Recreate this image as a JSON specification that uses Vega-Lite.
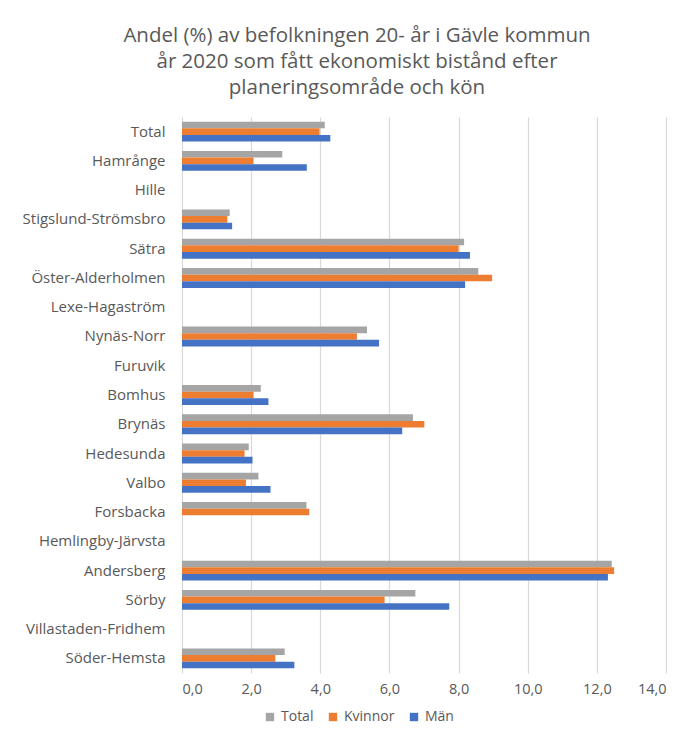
{
  "$schema": "https://vega.github.io/schema/vega-lite/v6.json",
  "autosize": {"type": "none"},
  "padding": {"left": 182, "top": 117, "right": 29, "bottom": 63},
  "width": 484,
  "height": 556,
  "background": "white",
  "title": {
    "text": ["Andel (%) av befolkningen 20- år i Gävle kommun", "år 2020 som fått ekonomiskt bistånd efter", "planeringsområde och kön"],
    "font": "Open Sans",
    "fontSize": 20.5,
    "fontWeight": "normal",
    "color": "#595959",
    "lineHeight": 26,
    "anchor": "middle",
    "frame": "group",
    "dx": -67,
    "offset": 19
  },
  "data": {
    "values": [
      {"omrade": "Total", "serie": "Total", "andel": 4.13},
      {"omrade": "Total", "serie": "Kvinnor", "andel": 3.98},
      {"omrade": "Total", "serie": "Män", "andel": 4.29},
      {"omrade": "Hamrånge", "serie": "Total", "andel": 2.9},
      {"omrade": "Hamrånge", "serie": "Kvinnor", "andel": 2.07},
      {"omrade": "Hamrånge", "serie": "Män", "andel": 3.61},
      {"omrade": "Stigslund-Strömsbro", "serie": "Total", "andel": 1.38},
      {"omrade": "Stigslund-Strömsbro", "serie": "Kvinnor", "andel": 1.31},
      {"omrade": "Stigslund-Strömsbro", "serie": "Män", "andel": 1.45},
      {"omrade": "Sätra", "serie": "Total", "andel": 8.16},
      {"omrade": "Sätra", "serie": "Kvinnor", "andel": 8.0},
      {"omrade": "Sätra", "serie": "Män", "andel": 8.33},
      {"omrade": "Öster-Alderholmen", "serie": "Total", "andel": 8.57},
      {"omrade": "Öster-Alderholmen", "serie": "Kvinnor", "andel": 8.97},
      {"omrade": "Öster-Alderholmen", "serie": "Män", "andel": 8.19},
      {"omrade": "Nynäs-Norr", "serie": "Total", "andel": 5.35},
      {"omrade": "Nynäs-Norr", "serie": "Kvinnor", "andel": 5.06},
      {"omrade": "Nynäs-Norr", "serie": "Män", "andel": 5.7},
      {"omrade": "Bomhus", "serie": "Total", "andel": 2.28},
      {"omrade": "Bomhus", "serie": "Kvinnor", "andel": 2.07},
      {"omrade": "Bomhus", "serie": "Män", "andel": 2.5},
      {"omrade": "Brynäs", "serie": "Total", "andel": 6.68},
      {"omrade": "Brynäs", "serie": "Kvinnor", "andel": 7.01},
      {"omrade": "Brynäs", "serie": "Män", "andel": 6.37},
      {"omrade": "Hedesunda", "serie": "Total", "andel": 1.93},
      {"omrade": "Hedesunda", "serie": "Kvinnor", "andel": 1.81},
      {"omrade": "Hedesunda", "serie": "Män", "andel": 2.04},
      {"omrade": "Valbo", "serie": "Total", "andel": 2.21},
      {"omrade": "Valbo", "serie": "Kvinnor", "andel": 1.85},
      {"omrade": "Valbo", "serie": "Män", "andel": 2.56},
      {"omrade": "Forsbacka", "serie": "Total", "andel": 3.6},
      {"omrade": "Forsbacka", "serie": "Kvinnor", "andel": 3.68},
      {"omrade": "Andersberg", "serie": "Total", "andel": 12.43},
      {"omrade": "Andersberg", "serie": "Kvinnor", "andel": 12.5},
      {"omrade": "Andersberg", "serie": "Män", "andel": 12.32},
      {"omrade": "Sörby", "serie": "Total", "andel": 6.75},
      {"omrade": "Sörby", "serie": "Kvinnor", "andel": 5.86},
      {"omrade": "Sörby", "serie": "Män", "andel": 7.73},
      {"omrade": "Söder-Hemsta", "serie": "Total", "andel": 2.97},
      {"omrade": "Söder-Hemsta", "serie": "Kvinnor", "andel": 2.7},
      {"omrade": "Söder-Hemsta", "serie": "Män", "andel": 3.25}
    ]
  },
  "mark": {"type": "bar"},
  "encoding": {
    "y": {
      "field": "omrade",
      "type": "nominal",
      "sort": null,
      "scale": {
        "domain": ["Total", "Hamrånge", "Hille", "Stigslund-Strömsbro", "Sätra", "Öster-Alderholmen", "Lexe-Hagaström", "Nynäs-Norr", "Furuvik", "Bomhus", "Brynäs", "Hedesunda", "Valbo", "Forsbacka", "Hemlingby-Järvsta", "Andersberg", "Sörby", "Villastaden-Fridhem", "Söder-Hemsta"],
        "paddingInner": 0.32,
        "paddingOuter": 0.16
      },
      "axis": {
        "title": null,
        "domain": false,
        "ticks": false,
        "grid": false,
        "labelFont": "Open Sans",
        "labelFontSize": 15,
        "labelColor": "#595959",
        "labelPadding": 17
      }
    },
    "yOffset": {
      "field": "serie",
      "type": "nominal",
      "sort": ["Total", "Kvinnor", "Män"],
      "scale": {"domain": ["Total", "Kvinnor", "Män"], "paddingInner": 0, "paddingOuter": 0}
    },
    "x": {
      "field": "andel",
      "type": "quantitative",
      "scale": {"domain": [0, 14], "nice": false},
      "axis": {
        "title": null,
        "values": [0, 2, 4, 6, 8, 10, 12, 14],
        "labelExpr": "replace(format(datum.value, '.1f'), '.', ',')",
        "domain": false,
        "ticks": false,
        "grid": true,
        "gridColor": "#D9D9D9",
        "gridWidth": 1.2,
        "labelFont": "Open Sans",
        "labelFontSize": 14.5,
        "labelColor": "#595959",
        "labelPadding": 9
      }
    },
    "color": {
      "field": "serie",
      "type": "nominal",
      "sort": ["Total", "Kvinnor", "Män"],
      "scale": {"domain": ["Total", "Kvinnor", "Män"], "range": ["#A5A5A5", "#ED7D31", "#4472C4"]},
      "legend": {
        "title": null,
        "orient": "none",
        "direction": "horizontal",
        "legendX": 81,
        "legendY": 593,
        "symbolType": "square",
        "symbolSize": 70,
        "symbolStrokeWidth": 0,
        "labelFont": "Open Sans",
        "labelFontSize": 14,
        "labelColor": "#595959",
        "columnPadding": 12,
        "labelOffset": 4
      }
    }
  },
  "config": {"view": {"stroke": null}}
}
